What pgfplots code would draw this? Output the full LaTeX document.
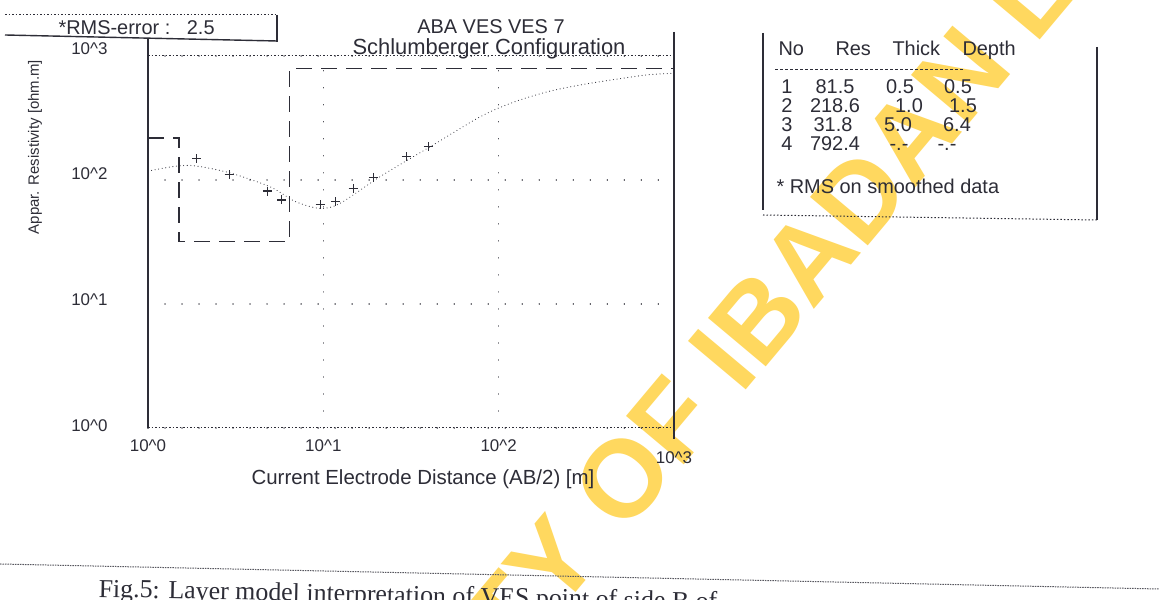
\documentclass[border=0pt]{standalone}
\usepackage{fontspec}
\setmainfont{Liberation Sans}
\newfontfamily\seriffont{Liberation Serif}
\usepackage{pgfplots}
\pgfplotsset{compat=1.18}
\definecolor{wm}{RGB}{255,216,95}
\definecolor{ink}{RGB}{45,45,55}
\newcommand\fs[1]{\fontsize{#1}{#1}\selectfont}
\newcommand\tl[2]{\raisebox{#1bp}{10\textasciicircum #2}}

\begin{document}
\begin{tikzpicture}
\useasboundingbox (0bp,0bp) rectangle (1159bp,600bp);
\fill[white] (0bp,0bp) rectangle (1159bp,600bp);
% watermark
\node[text=wm, font=\bfseries\fs{110}, rotate=50] at (735bp,255bp) {UNIVERSITY OF IBADAN LIBRARY};

\begin{axis}[
  at={(148bp,172bp)}, anchor=south west,
  scale only axis, width=526bp, height=372bp,
  xmode=log, ymode=log,
  xmin=1, xmax=1000, ymin=1, ymax=1000,
  axis line style={draw=none},
  tick style={draw=none},
  xtick={1,10,100,1000}, ytick={1,10,100,1000},
  xticklabels={\tl{6}{0},\tl{0}{1},\tl{-9}{2},\tl{-24}{3}},
  yticklabels={\tl{5}{0},\tl{8}{1},\tl{12}{2},\tl{14}{3}},
  ticklabel style={font=\fs{17}, text=ink},
  xticklabel style={yshift=-8bp},
  yticklabel style={xshift=-37bp},
  grid=major,
  major grid style={ink, line width=1.3bp, dash pattern=on 0.01bp off 17bp, line cap=round},
  clip=false,
]
% layer model
\addplot[ink, line width=1.3bp, dash pattern=on 16bp off 9bp] coordinates {
  (1,218.6) (1.5,218.6) (1.5,31.8) (6.4,31.8) (6.4,792.4) (1000,792.4)};
% model curve
\addplot[ink, line width=1.1bp, dash pattern=on 0.01bp off 3.6bp, line cap=round, smooth] coordinates {
  (1,118) (1.43,129) (1.86,130) (2.94,114) (4.98,88) (6.93,67) (9.6,59) (12.5,65)
  (21.2,107) (40.8,186) (79,325) (122,425) (190,515) (294,585) (453,645) (707,705) (1000,725)};
% field data
\addplot[only marks, mark=+, mark size=4.5bp, ink, line width=1.1bp] coordinates {
  (1.9,148) (2.9,110) (4.8,81.5) (5.8,69) (9.6,63) (11.7,67) (14.8,85) (19.3,105) (29.8,154) (39.8,185)};
% frame
\draw[ink, line width=1.4bp] (rel axis cs:0,1.048) -- (rel axis cs:0,0);
\draw[ink, line width=1.4bp] (rel axis cs:1,1.065) -- (rel axis cs:1,-0.03);
\draw[ink, line width=1bp, dash pattern=on 1.5bp off 2bp] (rel axis cs:0,0) -- (rel axis cs:1,0);
\draw[ink, line width=1bp, dash pattern=on 1.5bp off 2bp] (rel axis cs:0,1) -- (rel axis cs:1,1);
\end{axis}

\begin{scope}[x=1bp, y=-1bp, shift={(0bp,600bp)}]
% titles
\node[anchor=base, text=ink, font=\fs{20}] at (491,34) {ABA VES VES 7};
\node[anchor=base, text=ink, font=\fs{22}] at (489,55) {Schlumberger Configuration};
% axis labels
\node[text=ink, font=\fs{20.5}] at (423,479) {Current Electrode Distance (AB/2) [m]};
\node[text=ink, font=\fs{15}, rotate=90] at (35,147) {Appar. Resistivity [ohm.m]};
% RMS box
\draw[ink, line width=1bp, dash pattern=on 1.5bp off 2bp] (5,15) -- (277,15);
\draw[ink, line width=1.4bp] (277,15) -- (277,42);
\draw[ink, line width=1.4bp] (5,35) -- (277,41);
\node[anchor=west, text=ink, font=\fs{20}] at (55,28) {*RMS-error :\ \ \ 2.5};
% table
\begin{scope}[every node/.style={text=ink, font=\fs{20}, text height=1.45ex, text depth=0.25ex}]
\node[anchor=west] at (775,52) {No};
\node[anchor=west] at (832,52) {Res};
\node[anchor=west] at (889,52) {Thick};
\node[anchor=west] at (959,52) {Depth};
\draw[ink, line width=1bp, dash pattern=on 3bp off 2bp] (775,70) -- (965,70);
\node at (787,90) {1};  \node at (835,90) {81.5};  \node at (900,90) {0.5};  \node at (958,90) {0.5};
\node at (787,109) {2}; \node at (835,109) {218.6}; \node at (909,109) {1.0}; \node at (963,109) {1.5};
\node at (787,128) {3}; \node at (833,128) {31.8};  \node at (898,128) {5.0}; \node at (957,128) {6.4};
\node at (787,147) {4}; \node at (835,147) {792.4}; \node at (899,147) {-.-}; \node at (947,147) {-.-};
\node[anchor=west] at (773,190) {* RMS on smoothed data};
\end{scope}
\draw[ink, line width=1.4bp] (763,33) -- (763,210);
\draw[ink, line width=1.4bp] (1097,47) -- (1097,220);
\draw[ink, line width=1bp, dash pattern=on 1.5bp off 2bp] (763,215) -- (1097,220);
% caption
\draw[ink!80, line width=1bp, dash pattern=on 1.5bp off 1bp] (0,564) -- (1159,589);
\node[anchor=base west, text=ink, font=\seriffont\fs{26}, rotate=-1.2] at (95,597) {Fig.5: Layer model interpretation of VES point of side B of};
\end{scope}
\end{tikzpicture}
\end{document}
